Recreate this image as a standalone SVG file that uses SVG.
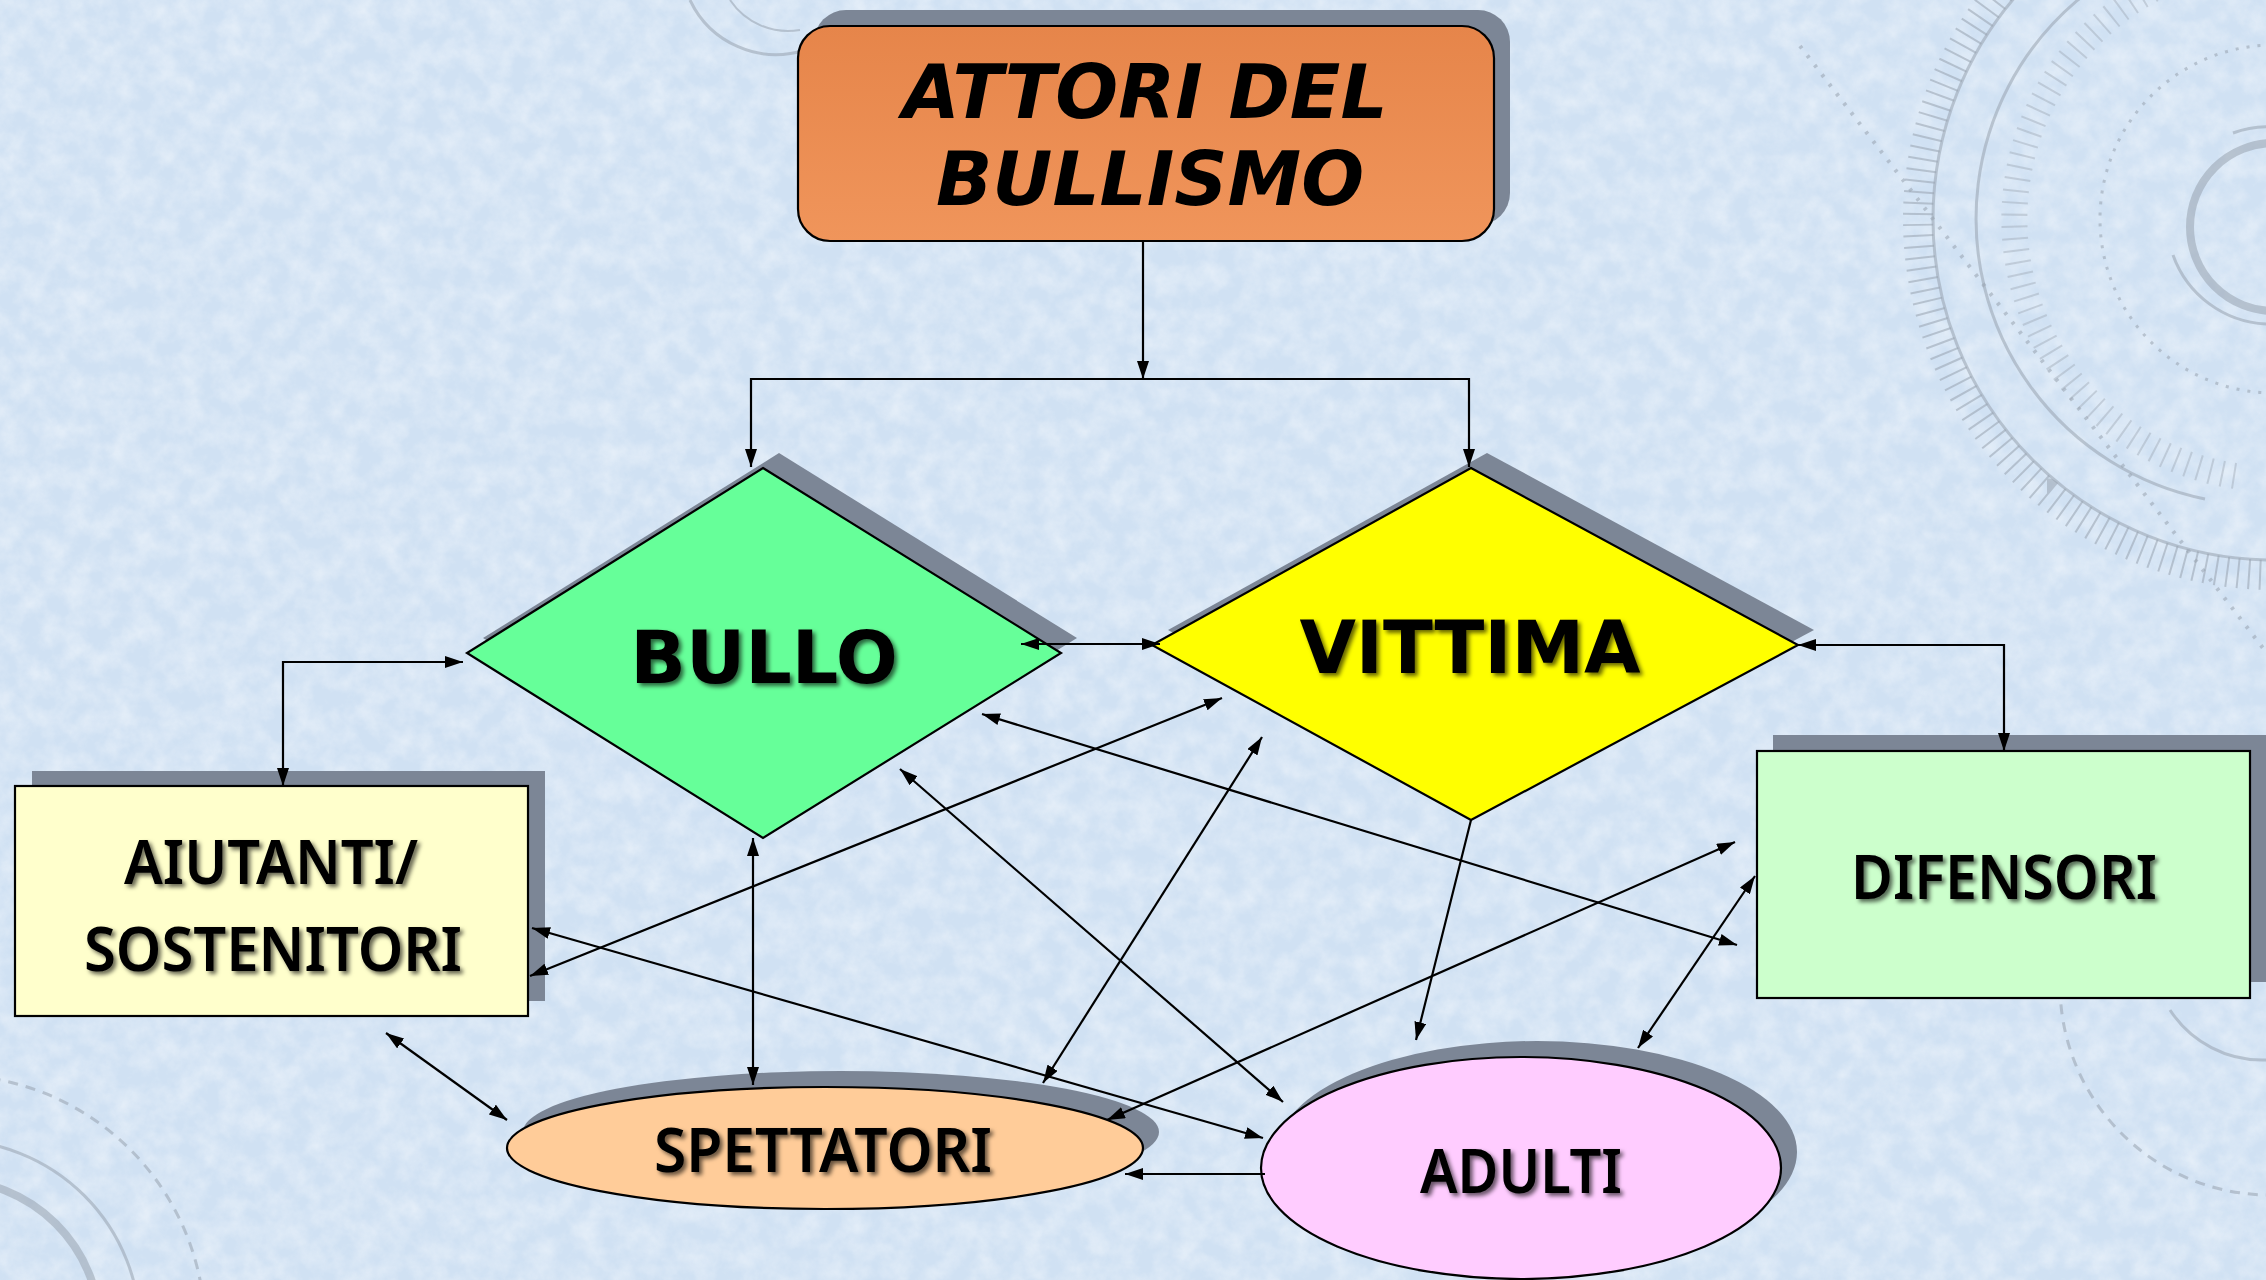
<svg xmlns="http://www.w3.org/2000/svg" width="2266" height="1280" viewBox="0 0 2266 1280">
  <defs>
    <style>
      .conn { stroke: #000; stroke-width: 2.2; fill: none; }
      .both { marker-start: url(#ah); marker-end: url(#ah); }
      .end { marker-end: url(#ah); }
      .shadow { fill: #7C8696; }
      .shape { stroke: #000; stroke-width: 2.2; }
      .big { font-family: "DejaVu Sans", Verdana, sans-serif; font-weight: bold; font-size: 73px; fill: #000; text-anchor: middle; }
      .lbl { font-family: "Noto Sans", "Open Sans", sans-serif; font-weight: 600; font-size: 62px; fill: #000; text-anchor: middle; }
      .title { font-family: "DejaVu Sans", Verdana, sans-serif; font-weight: bold; font-style: italic; font-size: 74px; fill: #000; text-anchor: middle; }
      .deco { fill: none; stroke: #98A2AF; opacity: 0.55; }
    </style>
    <marker id="ah" viewBox="0 0 18 12" refX="18" refY="6" markerWidth="18" markerHeight="12" markerUnits="userSpaceOnUse" orient="auto-start-reverse">
      <path d="M0,0 L18,6 L0,12 z" fill="#000"/>
    </marker>
    <linearGradient id="titleGrad" x1="0" y1="0" x2="0" y2="1">
      <stop offset="0" stop-color="#E6854A"/>
      <stop offset="1" stop-color="#F0955B"/>
    </linearGradient>
    <filter id="tex" x="0" y="0" width="100%" height="100%">
      <feTurbulence type="fractalNoise" baseFrequency="0.045" numOctaves="4" seed="7"/>
      <feColorMatrix type="matrix" values="0 0 0 0 1  0 0 0 0 1  0 0 0 0 1  1.6 0 0 0 -0.5"/>
    </filter>
    <filter id="ts" x="-10%" y="-20%" width="130%" height="150%">
      <feDropShadow dx="3" dy="3" stdDeviation="2" flood-color="#000" flood-opacity="0.6"/>
    </filter>
  </defs>

  <!-- background -->
  <g id="background">
    <rect x="0" y="0" width="2266" height="1280" fill="#D0E1F3"/>
    <rect x="0" y="0" width="2266" height="1280" fill="#fff" filter="url(#tex)" opacity="0.45"/>
    <!-- compass top right -->
    <circle class="deco" cx="2274" cy="219" r="341" stroke-width="3"/>
    <circle class="deco" cx="2274" cy="219" r="356" stroke-width="30" stroke-dasharray="2 9"/>
    <path class="deco" d="M2205,499 A286,286 0 0 1 2274,-67" stroke-width="3"/>
    <path d="M2235,476 A260,260 0 0 1 2274,-41" fill="none" stroke="#98A2AF" stroke-width="26" stroke-dasharray="2 10" opacity="0.4"/>
    <circle class="deco" cx="2274" cy="219" r="174" stroke-width="3" stroke-dasharray="3 8"/>
    <circle class="deco" cx="2274" cy="227" r="84" stroke-width="8"/>
    <path class="deco" d="M2173,255 A104,104 0 0 0 2266,324" stroke-width="3"/>
    <path class="deco" d="M2233,133 A100,100 0 0 1 2274,127" stroke-width="3"/>
    <line class="deco" x1="1800" y1="46" x2="2266" y2="652" stroke-width="4" stroke-dasharray="3 9"/>
    <!-- small arcs near title -->
    <path class="deco" d="M690,0 A95,95 0 0 0 805,50" stroke-width="3"/>
    <path class="deco" d="M730,0 A70,70 0 0 0 800,30" stroke-width="2"/>
    <!-- bottom left -->
    <circle class="deco" cx="-50" cy="1330" r="150" stroke-width="8"/>
    <circle class="deco" cx="-50" cy="1330" r="190" stroke-width="3"/>
    <circle class="deco" cx="-50" cy="1330" r="255" stroke-width="3" stroke-dasharray="10 8"/>
    <!-- bottom right -->
    <circle class="deco" cx="2270" cy="985" r="210" stroke-width="3" stroke-dasharray="10 8"/>
    <path class="deco" d="M2170,1010 A110,110 0 0 0 2266,1060" stroke-width="3"/>
  </g>

  <!-- nodes -->
  <g id="node-title">
    <rect class="shadow" x="814" y="10" width="696" height="215" rx="32"/>
    <rect class="shape" x="798" y="26" width="696" height="215" rx="32" fill="url(#titleGrad)"/>
    <text class="title" x="1145" y="118">ATTORI DEL</text>
    <text class="title" x="1150" y="205">BULLISMO</text>
  </g>

  <g id="node-bullo">
    <polygon class="shadow" points="779,453 1077,638 779,823 483,638"/>
    <polygon class="shape" points="763,468 1061,653 763,838 467,653" fill="#66FF99"/>
    <text class="big" x="764" y="683" filter="url(#ts)">BULLO</text>
  </g>

  <g id="node-vittima">
    <polygon class="shadow" points="1487,453 1814,630 1487,805 1168,630"/>
    <polygon class="shape" points="1471,468 1798,645 1471,820 1152,645" fill="#FFFF00"/>
    <text class="big" x="1470" y="673" filter="url(#ts)">VITTIMA</text>
  </g>

  <g id="node-aiutanti">
    <rect class="shadow" x="32" y="771" width="513" height="230"/>
    <rect class="shape" x="15" y="786" width="513" height="230" fill="#FFFFCC"/>
    <text class="lbl" x="271" y="884" textLength="294" lengthAdjust="spacingAndGlyphs" filter="url(#ts)">AIUTANTI/</text>
    <text class="lbl" x="273" y="971" textLength="378" lengthAdjust="spacingAndGlyphs" filter="url(#ts)">SOSTENITORI</text>
  </g>

  <g id="node-difensori">
    <rect class="shadow" x="1773" y="735" width="493" height="247"/>
    <rect class="shape" x="1757" y="751" width="493" height="247" fill="#CCFFCC"/>
    <text class="lbl" x="2004" y="899" textLength="306" lengthAdjust="spacingAndGlyphs" filter="url(#ts)">DIFENSORI</text>
  </g>

  <g id="node-spettatori">
    <ellipse class="shadow" cx="841" cy="1132" rx="318" ry="61"/>
    <ellipse class="shape" cx="825" cy="1148" rx="318" ry="61" fill="#FFCC99"/>
    <text class="lbl" x="823" y="1172" textLength="338" lengthAdjust="spacingAndGlyphs" filter="url(#ts)">SPETTATORI</text>
  </g>

  <g id="node-adulti">
    <ellipse class="shadow" cx="1537" cy="1152" rx="260" ry="111"/>
    <ellipse class="shape" cx="1521" cy="1168" rx="260" ry="111" fill="#FFCCFF"/>
    <text class="lbl" x="1521" y="1193" textLength="202" lengthAdjust="spacingAndGlyphs" filter="url(#ts)">ADULTI</text>
  </g>

  <!-- connectors -->
  <g id="connectors">
    <line class="conn end" x1="1143" y1="241" x2="1143" y2="379"/>
    <polyline class="conn end" points="1143,379 751,379 751,467"/>
    <polyline class="conn end" points="1143,379 1469,379 1469,467"/>
    <polyline class="conn both" points="463,662 283,662 283,786"/>
    <line class="conn both" x1="1021" y1="644" x2="1160" y2="644"/>
    <polyline class="conn both" points="1798,645 2004,645 2004,751"/>
    <line class="conn both" x1="753" y1="838" x2="753" y2="1085"/>
    <line class="conn both" x1="386" y1="1033" x2="507" y2="1120"/>
    <line class="conn both" x1="530" y1="976" x2="1222" y2="698"/>
    <line class="conn both" x1="532" y1="928" x2="1263" y2="1138"/>
    <line class="conn both" x1="900" y1="769" x2="1283" y2="1102"/>
    <line class="conn both" x1="982" y1="714" x2="1737" y2="945"/>
    <line class="conn both" x1="1043" y1="1083" x2="1262" y2="737"/>
    <line class="conn end" x1="1471" y1="820" x2="1416" y2="1040"/>
    <line class="conn both" x1="1107" y1="1120" x2="1735" y2="842"/>
    <line class="conn both" x1="1638" y1="1048" x2="1755" y2="876"/>
    <line class="conn end" x1="1265" y1="1174" x2="1125" y2="1174"/>
  </g>
</svg>
